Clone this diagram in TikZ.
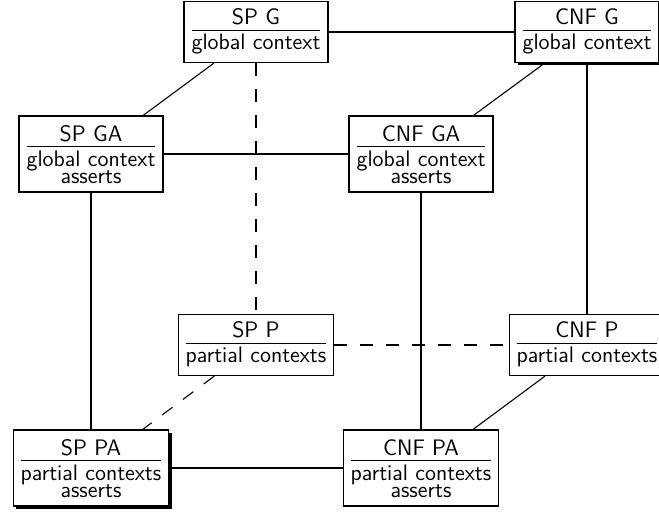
\documentclass[tikz,border=0pt]{standalone}
\usetikzlibrary{shadows}
\newcommand\cubelabel[2]{{\fontsize{11.2}{11.7}\selectfont\sffamily\setlength\arrayrulewidth{0.6pt}%
\renewcommand\arraystretch{0}%
\begin{tabular}{@{}c@{}}\rule[-2.6pt]{0pt}{11.1pt}#1\\\hline
\rule[-3.5pt]{0pt}{12.8pt}\vtop{\baselineskip=8.85pt\lineskiplimit=-20pt\halign{\hfil##\hfil\cr#2\crcr}}\end{tabular}}}
\tikzset{
  cubebox/.style={draw, line width=0.65pt, fill=white, inner xsep=3.75pt, inner ysep=0pt, minimum height=30.5pt},
  tallbox/.style={cubebox, minimum height=38pt},
  shadowed/.style={drop shadow={shadow xshift=1.5pt, shadow yshift=-1.5pt, fill=black, opacity=1}},
  edge/.style={line width=0.55pt},
  dashededge/.style={line width=0.55pt, dash pattern=on 6.5pt off 6.5pt},
}
\begin{document}
\begin{tikzpicture}[x=0.5pt, y=-0.5pt]
\useasboundingbox (0,0) rectangle (659,512);
\node[cubebox] (spg) at (256,32) {\cubelabel{SP G}{global context}};
\node[cubebox, shadowed] (cnfg) at (587,32) {\cubelabel{CNF G}{global context}};
\node[tallbox] (spga) at (91,154) {\cubelabel{SP GA}{global context\cr asserts}};
\node[tallbox] (cnfga) at (421,154) {\cubelabel{CNF GA}{global context\cr asserts}};
\node[cubebox] (spp) at (256,345) {\cubelabel{SP P}{partial contexts}};
\node[cubebox] (cnfp) at (587,345) {\cubelabel{CNF P}{partial contexts}};
\node[tallbox, shadowed] (sppa) at (91,468) {\cubelabel{SP PA}{partial contexts\cr asserts}};
\node[tallbox] (cnfpa) at (421,468) {\cubelabel{CNF PA}{partial contexts\cr asserts}};
\draw[edge] (spg) -- (cnfg);
\draw[edge] (spg) -- (spga);
\draw[edge] (cnfg) -- (cnfga);
\draw[edge] (spga) -- (cnfga);
\draw[edge] (cnfg) -- (cnfp);
\draw[edge] (spga) -- (sppa);
\draw[edge] (cnfga) -- (cnfpa);
\draw[edge] (cnfp) -- (cnfpa);
\draw[edge] (sppa) -- (cnfpa);
\draw[dashededge] (spg) -- (spp);
\draw[dashededge] (spp) -- (cnfp);
\draw[dashededge] (spp) -- (sppa);
\end{tikzpicture}
\end{document}
